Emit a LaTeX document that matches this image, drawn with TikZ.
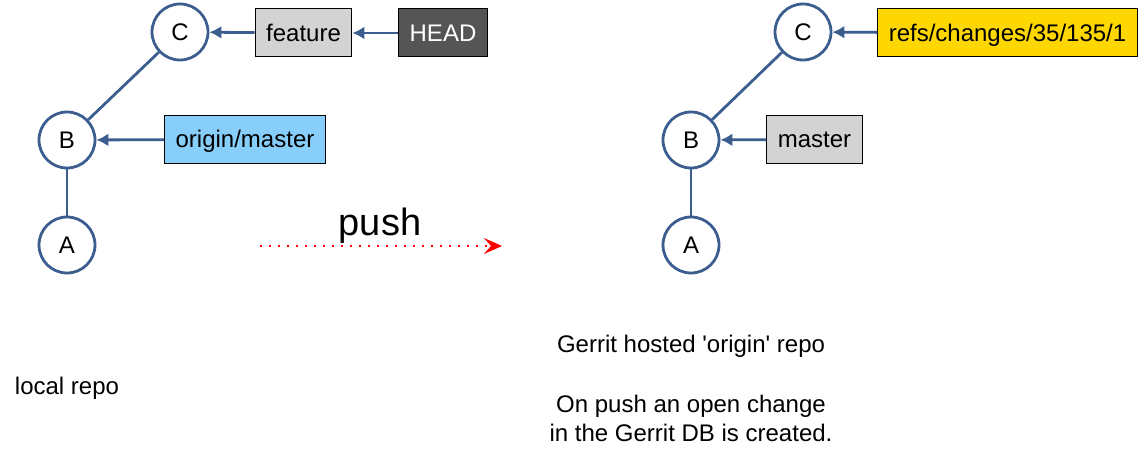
\documentclass[tikz,border=0pt]{standalone}
\usepackage{fontspec}
\setmainfont{Liberation Sans}
\usetikzlibrary{arrows.meta, positioning}
\definecolor{commitBlue}{HTML}{3B5E8F}
\definecolor{refGray}{HTML}{D3D3D3}
\definecolor{headGray}{HTML}{555555}
\definecolor{remoteBlue}{HTML}{87CEFA}
\definecolor{changeGold}{HTML}{FFD700}
\tikzset{
  commit/.style = {
    draw=commitBlue,
    circle,
    line width=1.4pt,
    minimum size=28pt,
    inner sep=0,
  },
  ref/.style = {
    draw=black,
    line width=0.5pt,
    rectangle,
    minimum height=24pt,
    inner xsep=5.5pt,
    text height=10.9pt,
    text depth=2.5pt,
  },
  parent/.style = {
    draw=commitBlue,
    line width=1.4pt,
  },
  points/.style = {
    parent,
    -{Latex[length=6pt, width=6.5pt]},
  },
  pushArrow/.style = {
    draw=red,
    line width=1.3pt,
    dash pattern=on 1.2pt off 3.3pt,
    -{Stealth[length=9pt, width=8pt, inset=3.5pt]},
  },
}

\begin{document}
\begin{tikzpicture}[
  x=0.5pt,
  y=-0.5pt,
  font=\fontsize{12}{14.5}\selectfont,
]
\useasboundingbox (0,0) rectangle (1144,459);

% local repo
\node(C)[commit] at (180,32) {C};
\node(B)[commit] at (67,140) {B};
\node(A)[commit] at (67,245) {A};
\node(feature)[ref, fill=refGray] at (303.5,33) {feature};
\node(HEAD)[ref, fill=headGray, text=white] at (443,33) {HEAD};
\node(originMaster)[ref, fill=remoteBlue] at (245,139.5) {origin/master};

\draw[parent] (A) -- (B);
\draw[parent] (B) -- (C);
\draw[points] (feature) -- (C);
\draw[points] (HEAD) -- (feature);
\draw[points] (originMaster) -- (B);

% push
\node(push)[font=\fontsize{19}{23}\selectfont] at (380,226) {push};
\coordinate(pushStart) at (260,246);
\coordinate(pushEnd) at (502,246);
\draw[pushArrow] (pushStart) -- (pushEnd);

% gerrit repo
\node(gerritC)[commit] at (803,32) {C};
\node(gerritB)[commit] at (691,140) {B};
\node(gerritA)[commit] at (691,245) {A};
\node(change)[ref, fill=changeGold] at (1007.5,33) {refs/changes/35/135/1};
\node(master)[ref, fill=refGray] at (814.5,139.5) {master};

\draw[parent] (gerritA) -- (gerritB);
\draw[parent] (gerritB) -- (gerritC);
\draw[points] (change) -- (gerritC);
\draw[points] (master) -- (gerritB);

% captions
\node(localRepo) at (67,388) {local repo};
\node(gerritRepo) at (691,346) {Gerrit hosted \textquotesingle origin\textquotesingle\ repo};
\node(gerritNote)[align=center] at (691,418) {On push an open change\\in the Gerrit DB is created.};

\end{tikzpicture}
\end{document}
